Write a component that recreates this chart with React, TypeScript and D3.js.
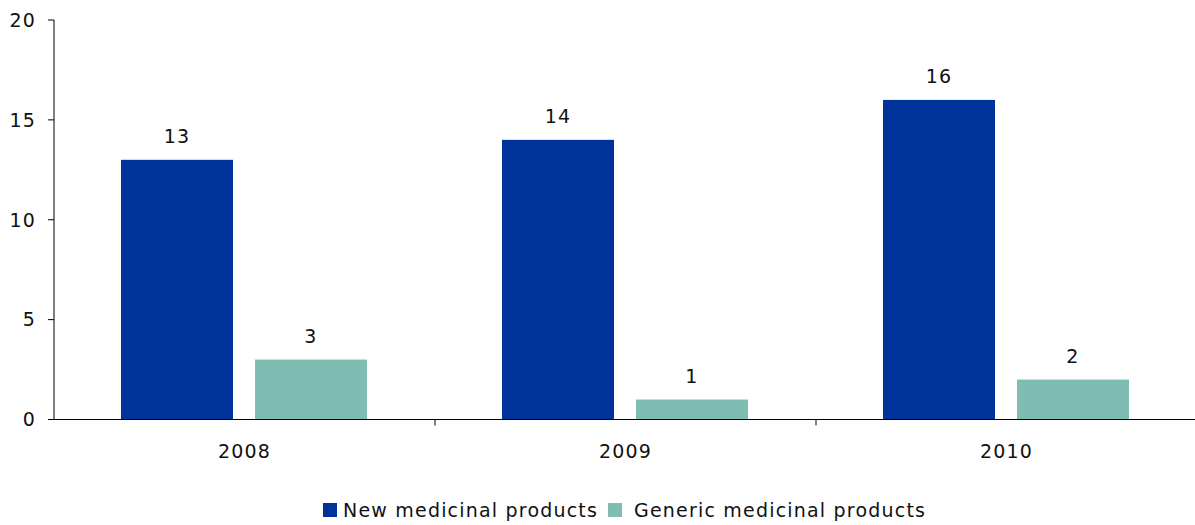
import React from "react";
import * as d3 from "d3";

const years = ["2008", "2009", "2010"];
const seriesNames = ["New medicinal products", "Generic medicinal products"];
const newProducts = [13, 14, 16];
const genericProducts = [3, 1, 2];
const yTicks = [0, 5, 10, 15, 20];
const colors = ["#003399", "#7fbcb2"];

const W = 1195;
const H = 525;
const M = { left: 54, top: 20 };
const FONT = "'DejaVu Sans', Verdana, sans-serif";
const FS = 19;
const LS = 1.2;

export default function App() {
  const x = d3.scaleBand<string>().domain(years).range([M.left, M.left + 381 * 3]).paddingInner(0).paddingOuter(0);
  const inner = d3.scaleBand<string>().domain(seriesNames).range([67, 67 + 246]).paddingInner(22 / 134).paddingOuter(0);
  const y = d3.scaleLinear().domain([0, 20]).range([419.5, 20]);
  const values = [newProducts, genericProducts];
  const txt = { fontFamily: FONT, fontSize: FS, fill: "#111", letterSpacing: LS } as const;

  return (
    <svg width={W} height={H} style={{ position: "absolute", left: 0, top: 0, background: "#fff" }}>
      {values.map((vals, si) =>
        vals.map((v, i) => {
          const bx = (x(years[i]) as number) + (inner(seriesNames[si]) as number);
          return (
            <g key={`${si}-${i}`}>
              <rect x={bx} y={y(v)} width={inner.bandwidth()} height={y(0) - y(v)} fill={colors[si]} />
              <text x={bx + inner.bandwidth() / 2} y={y(v) - 16.5} textAnchor="middle" {...txt}>
                {v}
              </text>
            </g>
          );
        })
      )}
      {/* y axis */}
      <line x1={M.left} x2={M.left} y1={y(20)} y2={y(0)} stroke="#000" strokeWidth={1} />
      {yTicks.map((t) => (
        <g key={t}>
          <line x1={M.left - 6} x2={M.left} y1={y(t)} y2={y(t)} stroke="#000" />
          <text x={M.left - 18} y={y(t)} dy="0.36em" textAnchor="end" {...txt}>
            {t}
          </text>
        </g>
      ))}
      {/* x axis */}
      <line x1={M.left} x2={W} y1={y(0)} y2={y(0)} stroke="#000" />
      {years.map((yr, i) => (
        <g key={yr}>
          {i > 0 && <line x1={x(yr) as number} x2={x(yr) as number} y1={y(0)} y2={y(0) + 6} stroke="#000" />}
          <text x={(x(yr) as number) + x.bandwidth() / 2} y={458} textAnchor="middle" {...txt}>
            {yr}
          </text>
        </g>
      ))}
      {/* legend */}
      <g>
        <rect x={323} y={503} width={14} height={14} fill={colors[0]} />
        <text x={343} y={517} {...txt}>{seriesNames[0]}</text>
        <rect x={608} y={503} width={14} height={14} fill={colors[1]} />
        <text x={634} y={517} {...txt}>{seriesNames[1]}</text>
      </g>
    </svg>
  );
}
